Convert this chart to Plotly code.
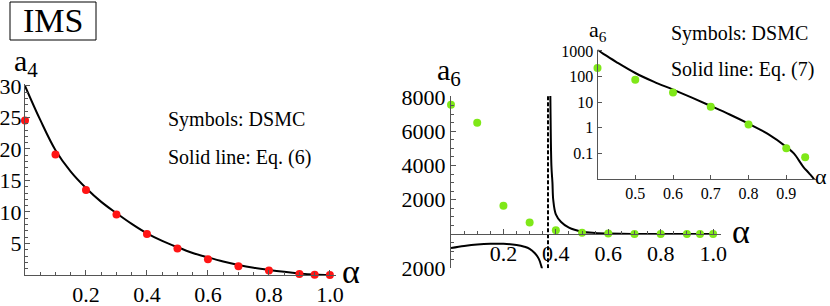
import plotly.graph_objects as go

# ---------------- data ----------------
alpha_dsmc = [0.0, 0.1, 0.2, 0.3, 0.4, 0.5, 0.6, 0.7, 0.8, 0.9, 0.95, 1.0]
a4_dsmc = [24.5, 19.1, 13.5, 9.6, 6.5, 4.2, 2.5, 1.4, 0.7, 0.15, 0.05, 0.0]
a6_dsmc = [7550, 6490, 1650, 680, 217, 76, 24, 6.7, 1.33, 0.158, 0.07, 0.0]

alpha_a4_curve = [0.0, 0.05, 0.1, 0.15, 0.2, 0.25, 0.3, 0.35, 0.4, 0.45, 0.5,
                  0.55, 0.6, 0.65, 0.7, 0.75, 0.8, 0.85, 0.9, 0.95, 1.0]
a4_curve = [30.0, 24.6, 19.8, 16.4, 13.8, 11.6, 9.8, 8.1, 6.6, 5.4, 4.4,
            3.5, 2.8, 2.15, 1.6, 1.15, 0.8, 0.5, 0.25, 0.08, 0.0]

alpha_a6_neg = [0.0, 0.05, 0.1, 0.15, 0.2, 0.25, 0.28, 0.3, 0.32, 0.335, 0.345, 0.355]
a6_neg = [-820, -700, -610, -565, -570, -640, -740, -860, -1120, -1450, -1900, -2600]

alpha_a6_pos = [0.376, 0.379, 0.383, 0.387, 0.39, 0.4, 0.42, 0.45, 0.5, 0.55, 0.6,
                0.65, 0.7, 0.75, 0.8, 0.85, 0.9, 0.92, 0.945, 0.96, 0.975, 0.99]
a6_pos = [12000, 8000, 4000, 3000, 2000, 1150, 700, 370, 138, 62, 31,
          15, 7.1, 3.3, 1.45, 0.59, 0.18, 0.1, 0.03, 0.017, 0.009, 0.003]

alpha_pole = 0.37

a4_ticks = [5, 10, 15, 20, 25, 30]
alpha_ticks = [0.2, 0.4, 0.6, 0.8, 1.0]
alpha_ticktext = ["0.2", "0.4", "0.6", "0.8", "1.0"]
a6_ticks = [-2000, 2000, 4000, 6000, 8000]
a6_ticktext = ["2000", "2000", "4000", "6000", "8000"]
inset_alpha_ticks = [0.5, 0.6, 0.7, 0.8, 0.9]
inset_a6_ticks = [0.1, 1, 10, 100, 1000]
inset_a6_ticktext = ["0.1", "1", "10", "100", "1000"]

# ---------------- styling ----------------
W, H = 830, 306
FONT = "Liberation Serif, Times New Roman, Times, serif"
RED = "#ff1414"
GREEN = "#7fe818"
AXC = "#555555"


def px(x):
    return x / W


def py(y):
    return 1 - y / H


fig = go.Figure()

# Left panel
fig.add_trace(go.Scatter(x=alpha_a4_curve, y=a4_curve, mode="lines", line=dict(color="black", width=2, shape="spline"),
                         xaxis="x", yaxis="y", showlegend=False))
fig.add_trace(go.Scatter(x=alpha_dsmc, y=a4_dsmc, mode="markers", marker=dict(color=RED, size=8),
                         cliponaxis=False, xaxis="x", yaxis="y", showlegend=False))

# Right main panel
fig.add_trace(go.Scatter(x=[alpha_pole, alpha_pole], y=[-2000, 8100], mode="lines",
                         line=dict(color="black", width=2, dash="4px,2px"),
                         xaxis="x2", yaxis="y2", showlegend=False))
fig.add_trace(go.Scatter(x=alpha_a6_neg, y=a6_neg, mode="lines", line=dict(color="black", width=2, shape="spline"),
                         xaxis="x2", yaxis="y2", showlegend=False))
fig.add_trace(go.Scatter(x=alpha_a6_pos, y=a6_pos, mode="lines", line=dict(color="black", width=2, shape="spline"),
                         xaxis="x2", yaxis="y2", showlegend=False))
fig.add_trace(go.Scatter(x=alpha_dsmc, y=a6_dsmc, mode="markers", marker=dict(color=GREEN, size=8),
                         cliponaxis=False, xaxis="x2", yaxis="y2", showlegend=False))

# Inset (log scale)
ins_a = [a for a, v in zip(alpha_a6_pos, a6_pos) if a >= 0.39]
ins_v = [v for a, v in zip(alpha_a6_pos, a6_pos) if a >= 0.39]
fig.add_trace(go.Scatter(x=ins_a, y=ins_v, mode="lines", line=dict(color="black", width=2, shape="spline"),
                         xaxis="x3", yaxis="y3", showlegend=False))
pts_a = [a for a, v in zip(alpha_dsmc, a6_dsmc) if a >= 0.4 and v > 0]
pts_v = [v for a, v in zip(alpha_dsmc, a6_dsmc) if a >= 0.4 and v > 0]
fig.add_trace(go.Scatter(x=pts_a, y=pts_v, mode="markers", marker=dict(color=GREEN, size=8),
                         cliponaxis=False, xaxis="x3", yaxis="y3", showlegend=False))

common = dict(showline=True, linecolor=AXC, linewidth=1, showgrid=False, zeroline=False,
              ticks="inside", tickcolor=AXC, ticklen=5, tickwidth=1, automargin=False,
              tickfont=dict(family=FONT, size=22, color="black"))
small = {**common, "tickfont": dict(family=FONT, size=16, color="black"), "ticklen": 4}

fig.update_layout(
    width=W, height=H, autosize=False,
    margin=dict(l=0, r=0, t=0, b=0, pad=0, autoexpand=False),
    font=dict(family=FONT, color="black"),
    showlegend=False,
    paper_bgcolor="white", plot_bgcolor="rgba(0,0,0,0)",
    xaxis=dict(domain=[px(25), px(336)], range=[0, 1.02], anchor="y",
               tickmode="array", tickvals=alpha_ticks, ticktext=alpha_ticktext,
               minor=dict(dtick=0.05, ticks="inside", ticklen=3, tickcolor=AXC), **common),
    yaxis=dict(domain=[py(275), py(84)], range=[0, 30.3], anchor="x",
               tickmode="array", tickvals=a4_ticks, ticklabelstandoff=-2,
               minor=dict(dtick=1, ticks="inside", ticklen=3, tickcolor=AXC), **common),
    xaxis2=dict(domain=[px(451), px(721)], range=[0, 1.03], anchor="free", position=py(234),
                tickmode="array", tickvals=alpha_ticks, ticktext=alpha_ticktext,
                minor=dict(dtick=0.05, ticks="inside", ticklen=3, tickcolor=AXC), **common),
    yaxis2=dict(domain=[py(268.3), py(96)], range=[-2000, 8056], anchor="x2",
                tickmode="array", tickvals=a6_ticks, ticktext=a6_ticktext,
                minor=dict(dtick=500, ticks="inside", ticklen=3, tickcolor=AXC), **common),
    xaxis3=dict(domain=[px(597.5), px(816.5)], range=[0.4, 0.98], anchor="y3",
                tickmode="array", tickvals=inset_alpha_ticks, **small),
    yaxis3=dict(domain=[py(179), py(49.7)], type="log", range=[-2, 3.05], anchor="x3",
                tickmode="array", tickvals=inset_a6_ticks, ticktext=inset_a6_ticktext, **small),
)

# IMS box
fig.add_shape(type="rect", xref="paper", yref="paper", x0=px(10), x1=px(96), y0=py(40), y1=py(2),
              line=dict(color="black", width=1))

ann = []


def text(s, x, y, size, xanchor="left"):
    ann.append(dict(text=s, x=px(x), y=py(y), xref="paper", yref="paper", showarrow=False,
                    xanchor=xanchor, yanchor="middle", font=dict(family=FONT, size=size, color="black")))


text("IMS", 53, 21, 34, xanchor="center")
text("a<sub>4</sub>", 12, 63, 30)
text("Symbols: DSMC", 166, 120, 20)
text("Solid line: Eq. (6)", 166, 157, 20)
text("α", 340, 271, 34)
text("a<sub>6</sub>", 435, 72, 30)
text("α", 730, 231, 34)
text("Symbols: DSMC", 669, 33, 20)
text("Solid line: Eq. (7)", 669, 70, 20)
text("a<sub>6</sub>", 587, 31, 22)
text("α", 813, 176, 22)
fig.update_layout(annotations=ann)

fig.write_html(
    "out.html",
    config={"displayModeBar": False},
    post_script="document.body.style.margin='0';document.body.style.padding='0';"
                "document.documentElement.style.overflow='hidden';document.body.style.overflow='hidden';",
)
